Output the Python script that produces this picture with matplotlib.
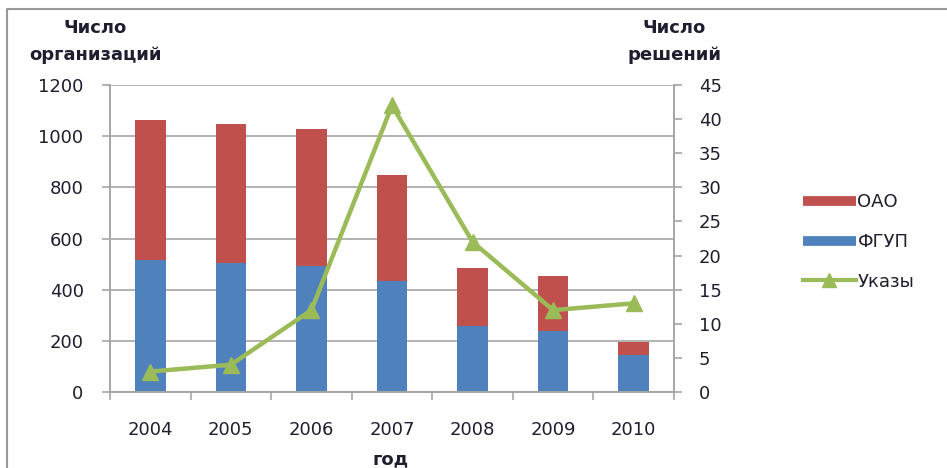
import matplotlib
matplotlib.use("Agg")
import matplotlib.pyplot as plt
from matplotlib.lines import Line2D

years = ["2004", "2005", "2006", "2007", "2008", "2009", "2010"]
fgup = [516, 503, 492, 434, 258, 240, 143]
oao_total = [1063, 1046, 1027, 849, 483, 452, 195]
oao = [t - f for t, f in zip(oao_total, fgup)]
ukazy = [3, 4, 12, 42, 22, 12, 13]

RED = "#C0504D"
BLUE = "#4F81BD"
GREEN = "#9BBB59"
GRID = "#A6A6A6"
TXT = "#1E1E2E"

plt.rcParams['font.family'] = ['DejaVu Sans']
plt.rcParams['text.color'] = TXT

W, H = 947, 468
fig = plt.figure(figsize=(W / 100, H / 100), dpi=100)
ax = fig.add_axes([110 / W, 1 - 392 / H, (674 - 110) / W, (392 - 85) / H])
ax2 = ax.twinx()

x = list(range(len(years)))
ax.bar(x, fgup, width=0.38, color=BLUE, zorder=2)
ax.bar(x, oao, width=0.38, bottom=fgup, color=RED, zorder=2)
ax2.plot(x, ukazy, color=GREEN, lw=3.2, marker='^', markersize=12, zorder=3)

ax.set_xlim(-0.5, len(years) - 0.5)
ax.set_ylim(0, 1200)
ax.set_yticks(range(0, 1201, 200))
ax2.set_ylim(0, 45)
ax2.set_yticks(range(0, 46, 5))

ax.set_xticks(x)
ax.set_xticklabels(years)
ax.set_xticks([i - 0.5 for i in range(len(years) + 1)], minor=True)
ax.tick_params(axis='x', which='major', length=0, pad=21, labelsize=13, labelcolor=TXT)
ax.tick_params(axis='x', which='minor', length=6, color=GRID, width=1.2)
ax.tick_params(axis='y', length=6, color=GRID, width=1.2, labelsize=13, pad=13, labelcolor=TXT)
ax2.tick_params(axis='y', length=6, color=GRID, width=1.2, labelsize=13, pad=12, labelcolor=TXT)

ax.grid(axis='y', color=GRID, lw=1.2, zorder=0)
ax.set_axisbelow(True)
for a in (ax, ax2):
    a.spines['top'].set_visible(False)
    for s in ['left', 'right', 'bottom']:
        a.spines[s].set_color(GRID)
        a.spines[s].set_linewidth(1.2)

tkw = dict(ha='center', va='center', fontsize=13, fontweight='bold')
fig.text(95 / W, 1 - 28 / H, "Число", **tkw)
fig.text(95 / W, 1 - 55 / H, "организаций", **tkw)
fig.text(674 / W, 1 - 28 / H, "Число", **tkw)
fig.text(674 / W, 1 - 55 / H, "решений", **tkw)
fig.text(391 / W, 1 - 459 / H, "год", ha='center', va='center', fontsize=13, fontweight='bold')

handles = [Line2D([], [], color=RED, lw=7, solid_capstyle='butt'),
           Line2D([], [], color=BLUE, lw=7, solid_capstyle='butt'),
           Line2D([], [], color=GREEN, lw=3, marker='^', markersize=10)]
fig.legend(handles, ["ОАО", "ФГУП", "Указы"], loc='center left',
           bbox_to_anchor=(787 / W, 1 - 242 / H), frameon=False, fontsize=13,
           handlelength=2.9, handletextpad=0.1, labelspacing=1.2)

fig.add_artist(Line2D([7 / W, 7 / W, 1.0], [0.0, 1 - 9 / H, 1 - 9 / H],
                      transform=fig.transFigure, color='#999999', lw=1.5))

fig.savefig("out.png", dpi=100)
